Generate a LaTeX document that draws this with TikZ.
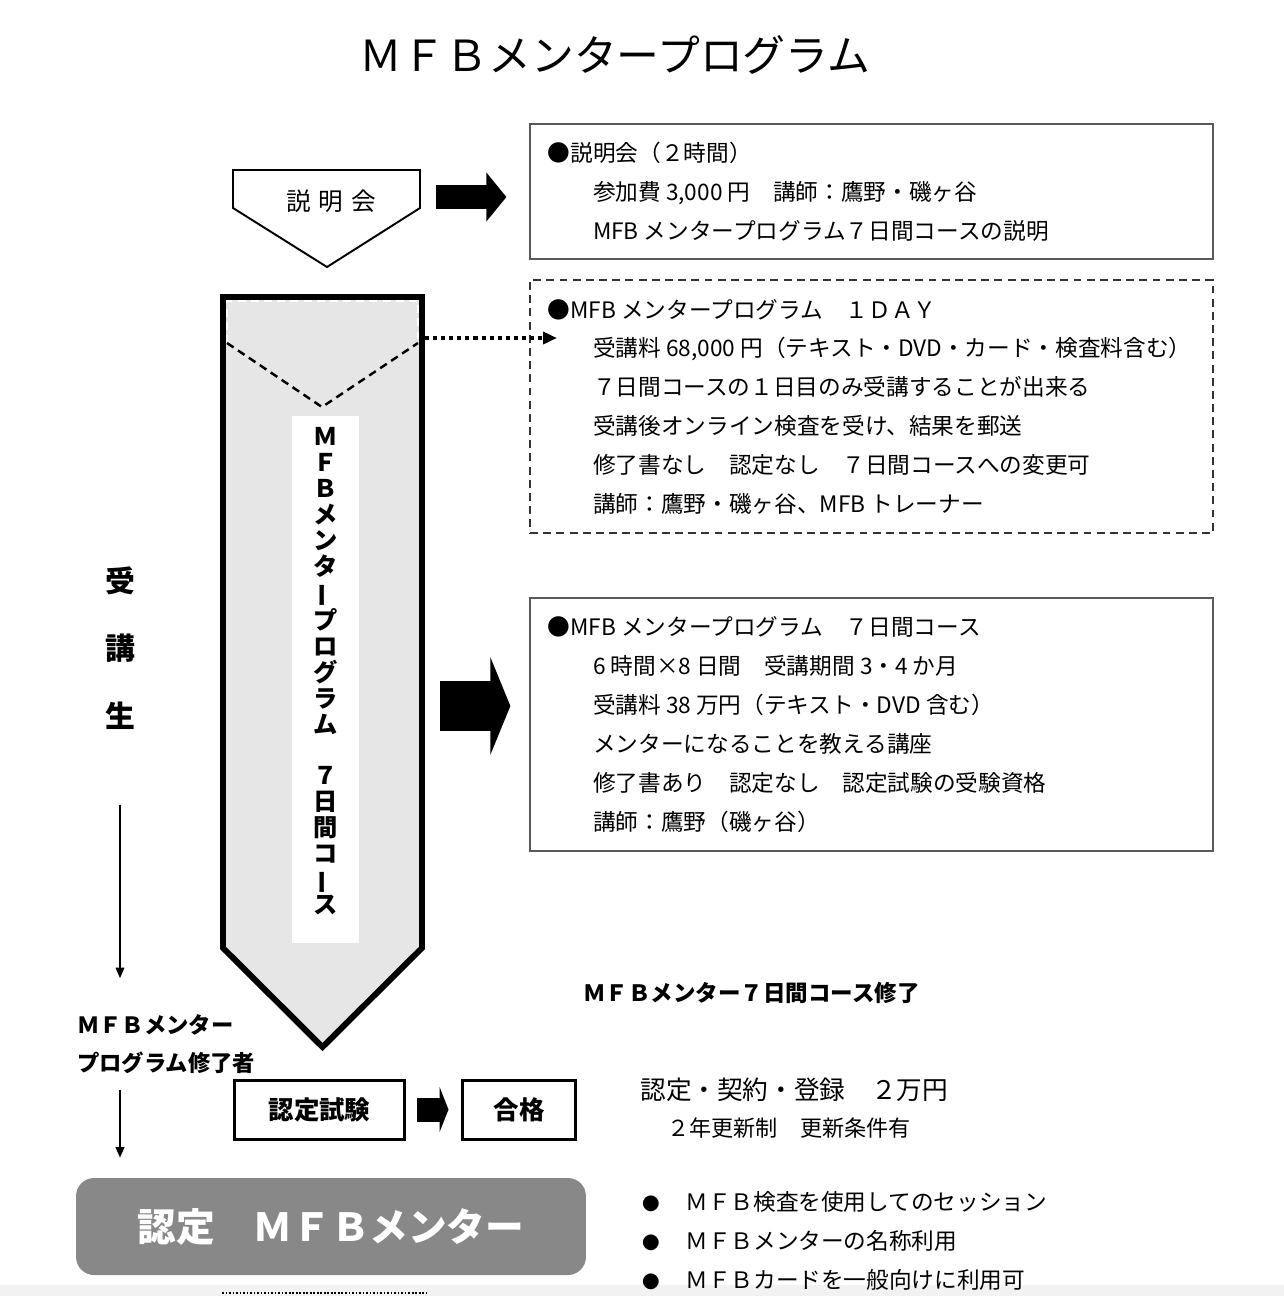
\documentclass[tikz,border=0pt]{standalone}
\usepackage{fontspec}
\setmainfont{Noto Sans CJK JP}
\usepackage{graphicx}
\usetikzlibrary{positioning,arrows.meta}
\definecolor{arrowgray}{HTML}{E6E6E6}
\definecolor{certgray}{HTML}{888888}
\tikzstyle{infobox} = [draw=black!65, line width=0.8pt, minimum width=13.66cm, inner sep=0pt]
\tikzstyle{dashbox} = [draw=black!80, line width=0.8pt, dash pattern=on 4.5pt off 3pt, minimum width=13.66cm, inner sep=0pt]
\tikzstyle{boxtext} = [inner sep=0pt, align=left, font=\fontsize{12.9}{22.1}\selectfont]
\tikzstyle{stepbox} = [draw, line width=1.7pt, minimum height=1.18cm, inner sep=0pt, font=\bfseries\fontsize{14.5}{17}\selectfont]
\tikzstyle{fatArrow} = [line width=0.48cm, -{Triangle[length=0.4cm, width=0.96cm]}]
\tikzstyle{thinArrow} = [line width=0.6pt, -{Triangle[length=6pt, width=5pt]}]
\tikzstyle{dotArrow} = [line width=2.3pt, dash pattern=on 2.3pt off 2.3pt, -{Triangle[length=0.28cm, width=0.24cm]}]
\newcommand{\meritdot}{\makebox[0.86cm][l]{\fontsize{10}{10}\selectfont ●}}
\newcommand{\vbar}{\rotatebox[origin=c]{90}{ー}}

\begin{document}
\begin{tikzpicture}[x=0.02cm, y=-0.02cm]
		\useasboundingbox (0,0) rectangle (1284,1296);
		\fill[black!5] (0,1285) rectangle (1284,1296);
		\draw[line width=1.2pt, dash pattern=on 1pt off 1pt] (222,1293) -- (427,1293);

		%title
		\node[font=\fontsize{24.4}{28}\selectfont] (title) at (615,55) {ＭＦＢメンタープログラム};

		%setsumeikai
		\draw[line width=1.1pt, fill=white] (233,170) -- (420,170) -- (420,208) -- (327,267) -- (233,208) -- cycle;
		\node[font=\fontsize{14}{16}\selectfont] (setsumei) at (331,201) {説\hspace{4.5pt}明\hspace{4.5pt}会};

		%program arrow
		\draw[line width=3.4pt, fill=arrowgray, line join=miter] (223,297) -- (422,297) -- (422,948) -- (322.5,1047) -- (223,948) -- cycle;
		\draw[white, line width=1.2pt, dash pattern=on 4.5pt off 3pt] (227,343) -- (227,301) -- (418,301) -- (418,343);
		\draw[line width=1.4pt, dash pattern=on 4.5pt off 3pt] (227,343) -- (322,407) -- (418,343);
		\node[fill=white, minimum width=1.34cm, minimum height=10.54cm, inner sep=0pt] (progStrip) at (325.5,679.5) {};
		\node[align=center, inner sep=0pt, font=\bfseries\fontsize{13.8}{14.7}\selectfont] (progText) at (325.5,671.5)
			{Ｍ\\Ｆ\\Ｂ\\メ\\ン\\タ\\\vbar\\プ\\ロ\\グ\\ラ\\ム\\　\\７\\日\\間\\コ\\\vbar\\ス};

		%info boxes
		\node[infobox, minimum height=2.7cm] (setsumeiBox) at (871.5,191.5) {};
		\node[boxtext, right=0.36cm of setsumeiBox.west] (setsumeiText)
			{●説明会（２時間）\\
			\hspace*{2em}参加費 3,000 円　講師：鷹野・磯ヶ谷\\
			\hspace*{2em}MFB メンタープログラム７日間コースの説明};
		\node[dashbox, minimum height=5.06cm] (oneDayBox) at (871.5,406.5) {};
		\node[boxtext, right=0.36cm of oneDayBox.west] (oneDayText)
			{●MFB メンタープログラム　１ＤＡＹ\\
			\hspace*{2em}受講料 68,000 円（テキスト・DVD・カード・検査料含む）\\
			\hspace*{2em}７日間コースの１日目のみ受講することが出来る\\
			\hspace*{2em}受講後オンライン検査を受け、結果を郵送\\
			\hspace*{2em}修了書なし　認定なし　７日間コースへの変更可\\
			\hspace*{2em}講師：鷹野・磯ヶ谷、MFB トレーナー};
		\node[infobox, minimum height=5.06cm] (courseBox) at (871.5,724.5) {};
		\node[boxtext, right=0.36cm of courseBox.west] (courseText)
			{●MFB メンタープログラム　７日間コース\\
			\hspace*{2em}6 時間×8 日間　受講期間 3・4 か月\\
			\hspace*{2em}受講料 38 万円（テキスト・DVD 含む）\\
			\hspace*{2em}メンターになることを教える講座\\
			\hspace*{2em}修了書あり　認定なし　認定試験の受験資格\\
			\hspace*{2em}講師：鷹野（磯ヶ谷）};

		%left side
		\node[align=center, font=\bfseries\fontsize{17}{38.5}\selectfont] (jukousei) at (120,648) {受\\講\\生};
		\node[anchor=west, align=left, inner sep=0pt, font=\bfseries\fontsize{12.7}{21.5}\selectfont] (shuuryousha) at (77,1044)
			{ＭＦＢメンター\\プログラム修了者};

		%completion and certification
		\node[font=\bfseries\fontsize{12.8}{15}\selectfont] (shuuryou) at (751.5,993) {ＭＦＢメンター７日間コース修了};
		\node[stepbox, minimum width=3.42cm] (shiken) at (319.5,1109.5) {認定試験};
		\node[stepbox, minimum width=2.28cm] (goukaku) at (519,1109.5) {合格};
		\node[anchor=west, inner sep=0pt, font=\fontsize{14.6}{17}\selectfont] (fee) at (640,1090) {認定・契約・登録　２万円};
		\node[anchor=west, inner sep=0pt, font=\fontsize{12.6}{15}\selectfont] (renew) at (667,1128) {２年更新制　更新条件有};
		\node[fill=certgray, rounded corners=0.36cm, minimum width=10.2cm, minimum height=1.94cm, text=white,
			font=\bfseries\fontsize{22}{26}\selectfont] (ninteiBig) at (331,1226.5) {認定　ＭＦＢメンター};
		\node[anchor=west, align=left, inner sep=0pt, font=\fontsize{12.9}{22.1}\selectfont] (merits) at (642,1241)
			{\meritdot ＭＦＢ検査を使用してのセッション\\
			\meritdot ＭＦＢメンターの名称利用\\
			\meritdot ＭＦＢカードを一般向けに利用可};

		%arrows
		\coordinate (a1) at (436,197);
		\coordinate (a2) at (440,706);
		\coordinate (dotStart) at (425,338);
		\coordinate (dotEnd) at (557,338);
		\draw[fatArrow, shorten >=0.46cm] (a1) -- (a1 -| setsumeiBox.west);
		\draw[fatArrow, line width=1cm, -{Triangle[length=0.4cm, width=1.94cm]}, shorten >=0.38cm] (a2) -- (a2 -| courseBox.west);
		\draw[dotArrow] (dotStart) -- (dotEnd);
		\draw[fatArrow, -{Triangle[length=0.18cm, width=0.9cm]}, shorten <=0.22cm, shorten >=0.24cm] (shiken.east) -- (goukaku.west);
		\draw[thinArrow, shorten <=1.38cm, shorten >=0.72cm] (jukousei.south) -- (jukousei.south |- shuuryousha.north);
		\draw[thinArrow, shorten <=0.32cm, shorten >=0.4cm] (jukousei.south |- shuuryousha.south) -- (jukousei.south |- ninteiBig.north);
\end{tikzpicture}
\end{document}
